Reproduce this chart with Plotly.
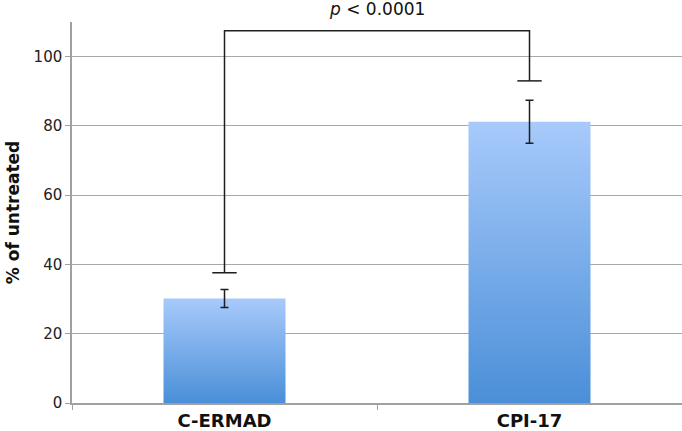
import plotly.graph_objects as go

categories = ["C-ERMAD", "CPI-17"]
values = [30.2, 81.2]
errors = [2.6, 6.2]

# significance bracket: feet heights over each bar, top of the bracket
bracket_feet = [37.6, 93.0]
bracket_top = 107.5
p_label = "<i>p</i> &lt; 0.0001"

bar_half = 0.2
cap_half = 0.04
ink = "#1e1e1e"

fig = go.Figure()

for i, (cat, val) in enumerate(zip(categories, values)):
    fig.add_trace(go.Scatter(
        x=[i - bar_half, i + bar_half, i + bar_half, i - bar_half, i - bar_half],
        y=[0, 0, val, val, 0],
        mode="lines",
        line=dict(width=0),
        fill="toself",
        fillgradient=dict(type="vertical",
                          colorscale=[[0, "#4a8fd8"], [1, "#a8cafb"]]),
        name=cat,
        hoverinfo="skip",
        showlegend=False,
    ))

fig.add_trace(go.Scatter(
    x=list(range(len(categories))),
    y=values,
    mode="markers",
    marker=dict(size=0.1, color=ink),
    error_y=dict(type="data", array=errors, color=ink, thickness=1.5, width=4),
    showlegend=False,
))

# bracket
fig.add_trace(go.Scatter(
    x=[0, 0, 1, 1],
    y=[bracket_feet[0], bracket_top, bracket_top, bracket_feet[1]],
    mode="lines",
    line=dict(color=ink, width=1.5),
    showlegend=False,
    hoverinfo="skip",
))
for i, foot in enumerate(bracket_feet):
    fig.add_trace(go.Scatter(
        x=[i - cap_half, i + cap_half],
        y=[foot, foot],
        mode="lines",
        line=dict(color=ink, width=1.5),
        showlegend=False,
        hoverinfo="skip",
    ))

fig.add_annotation(
    x=0.5, y=1, xref="x", yref="paper", yanchor="bottom",
    text=p_label, showarrow=False, yshift=1,
    font=dict(size=17, color="#111", family="DejaVu Sans"),
)

fig.update_layout(
    width=682, height=431,
    margin=dict(l=72, r=0, t=22, b=28, autoexpand=False),
    paper_bgcolor="white", plot_bgcolor="white",
    font=dict(family="DejaVu Sans", color="#222"),
)
fig.update_xaxes(
    range=[-0.5, 1.5],
    tickvals=[0, 1], ticktext=[f"<b>{c}</b>" for c in categories],
    ticks="", tickfont=dict(size=18, color="#111"), ticklabelstandoff=1,
    showgrid=False, zeroline=False, automargin=False,
    showline=True, linecolor="#a0a0a0", linewidth=1.5,
    minor=dict(tickvals=[-0.5, 0.5, 1.5], ticks="outside", ticklen=5,
               tickcolor="#a0a0a0", tickwidth=1, showgrid=False),
)
fig.update_yaxes(
    range=[0, 110],
    tickvals=[0, 20, 40, 60, 80, 100],
    ticks="outside", ticklen=5, tickcolor="#a0a0a0",
    tickfont=dict(size=15, color="#222"),
    showgrid=True, gridcolor="#a8a8a8", gridwidth=1,
    zeroline=False, automargin=False,
    showline=True, linecolor="#a0a0a0", linewidth=1.5,
    title=dict(text="<b>% of untreated</b>", font=dict(size=17, color="#111"), standoff=10),
)

fig.write_html("out.html", config={"displayModeBar": False},
               post_script="document.body.style.margin='0';")
